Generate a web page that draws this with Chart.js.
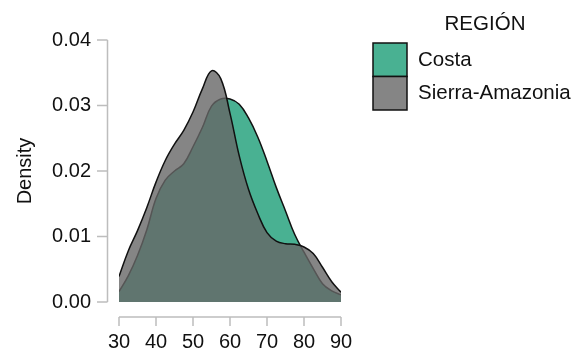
<!DOCTYPE html>
<html>
<head>
<meta charset="utf-8">
<script src="https://cdn.jsdelivr.net/npm/chart.js@4.4.1/dist/chart.umd.min.js"></script>
<style>
  body { margin: 0; background: #fff; }
</style>
</head>
<body>
<canvas id="density" width="585" height="350"></canvas>
<script>
// values
var ages = [30, 32.5, 35, 37.5, 40, 42.5, 45, 47.5, 50, 52.5, 55, 57.5, 60,
            62.5, 65, 67.5, 70, 72.5, 75, 77.5, 80, 82.5, 85, 87.5, 90];
var costa = [0.0016, 0.0040, 0.0071, 0.0110, 0.0158, 0.0186, 0.0200, 0.0211, 0.0237, 0.0266,
             0.0299, 0.0310, 0.0310, 0.0302, 0.0281, 0.0252, 0.0215, 0.0175, 0.0139, 0.0103,
             0.0076, 0.0051, 0.0028, 0.0017, 0.0011];
var sierra = [0.0039, 0.0078, 0.0109, 0.0144, 0.0183, 0.0216, 0.0241, 0.0262, 0.0290, 0.0325,
              0.0353, 0.0341, 0.0288, 0.0223, 0.0172, 0.0135, 0.0106, 0.0093, 0.0089, 0.0088,
              0.0084, 0.0074, 0.0053, 0.0031, 0.0015];
var xTicks = [30, 40, 50, 60, 70, 80, 90];
var yTicks = [0, 0.01, 0.02, 0.03, 0.04];
var groups = ['Costa', 'Sierra-Amazonia'];
var legendTitle = 'REGIÓN';

function points(vals) {
	var out = [];
	for (var i in ages) {
		out.push({x: ages[i], y: vals[i]});
	}
	return out;
}

// R style axes: detached from the plot area
var rAxes = {
	id: 'rAxes',
	afterDraw: function(chart) {
		var ctx = chart.ctx;
		var xs = chart.scales.x, ys = chart.scales.y;
		var ax = chart.chartArea.left - 11.5;
		var ay = chart.chartArea.bottom + 15;
		ctx.save();
		ctx.strokeStyle = '#bdbdbd';
		ctx.lineWidth = 1.5;
		ctx.beginPath();
		ctx.moveTo(ax, ys.getPixelForValue(yTicks[0]));
		ctx.lineTo(ax, ys.getPixelForValue(yTicks[yTicks.length - 1]));
		for (var i in yTicks) {
			var py = ys.getPixelForValue(yTicks[i]);
			ctx.moveTo(ax, py);
			ctx.lineTo(ax - 10.5, py);
		}
		ctx.moveTo(xs.getPixelForValue(xTicks[0]), ay);
		ctx.lineTo(xs.getPixelForValue(xTicks[xTicks.length - 1]), ay);
		for (var j in xTicks) {
			var px = xs.getPixelForValue(xTicks[j]);
			ctx.moveTo(px, ay);
			ctx.lineTo(px, ay + 9);
		}
		ctx.stroke();
		ctx.restore();
	}
};

// legend in the R layout: title, stacked boxes
var rLegend = {
	id: 'rLegend',
	afterDraw: function(chart) {
		var ctx = chart.ctx;
		var sets = chart.data.datasets;
		ctx.save();
		ctx.font = '20.5px "Liberation Sans", Arial, sans-serif';
		ctx.fillStyle = '#111';
		ctx.textAlign = 'center';
		ctx.textBaseline = 'middle';
		ctx.fillText(legendTitle, 485, 24);
		ctx.textAlign = 'left';
		for (var i = 0; i < sets.length; i++) {
			var top = 43 + i * 33.5;
			ctx.fillStyle = '#fff';
			ctx.fillRect(373, top, 34, 33.5);
			ctx.fillStyle = sets[i].backgroundColor;
			ctx.fillRect(373, top, 34, 33.5);
			ctx.strokeStyle = '#111';
			ctx.lineWidth = 1.5;
			ctx.strokeRect(373, top, 34, 33.5);
			ctx.fillStyle = '#111';
			ctx.fillText(sets[i].label, 418, top + 17);
		}
		ctx.restore();
	}
};

Chart.defaults.font.family = '"Liberation Sans", Arial, sans-serif';
Chart.defaults.font.size = 20;
Chart.defaults.color = '#111';

var chartdata = {
	datasets: [
		{
			label: groups[0],
			data: points(costa),
			backgroundColor: 'rgba(27, 158, 119, 0.8)',
			borderColor: '#111',
			borderWidth: 1.5,
			fill: 'origin',
			order: 1
		},
		{
			label: groups[1],
			data: points(sierra),
			backgroundColor: 'rgba(102, 102, 102, 0.8)',
			borderColor: '#111',
			borderWidth: 1.5,
			fill: 'origin',
			order: 0
		}
	]
};

var ctx = document.getElementById('density');
var densityChart = new Chart(ctx, {
	type: 'line',
	data: chartdata,
	plugins: [rAxes, rLegend],
	options: {
		responsive: false,
		animation: false,
		devicePixelRatio: 1,
		layout: { padding: { top: 19.5, right: 244, left: 0, bottom: 0 } },
		elements: {
			point: { radius: 0 },
			line: { tension: 0.4 }
		},
		plugins: {
			legend: { display: false },
			tooltip: { enabled: false }
		},
		scales: {
			x: {
				type: 'linear',
				min: 30,
				max: 90,
				grid: { display: false, drawTicks: false },
				border: { display: false },
				ticks: { stepSize: 10, padding: 28 },
				afterFit: function(s) { s.height = 48; }
			},
			y: {
				min: 0,
				max: 0.04,
				grid: { display: false, drawTicks: false },
				border: { display: false },
				ticks: {
					stepSize: 0.01,
					padding: 28,
					callback: function(v) { return v.toFixed(2); }
				},
				title: { display: true, text: 'Density', padding: { top: 13, bottom: 0 } },
				afterFit: function(s) { s.width = 119; }
			}
		}
	}
});
</script>
</body>
</html>
